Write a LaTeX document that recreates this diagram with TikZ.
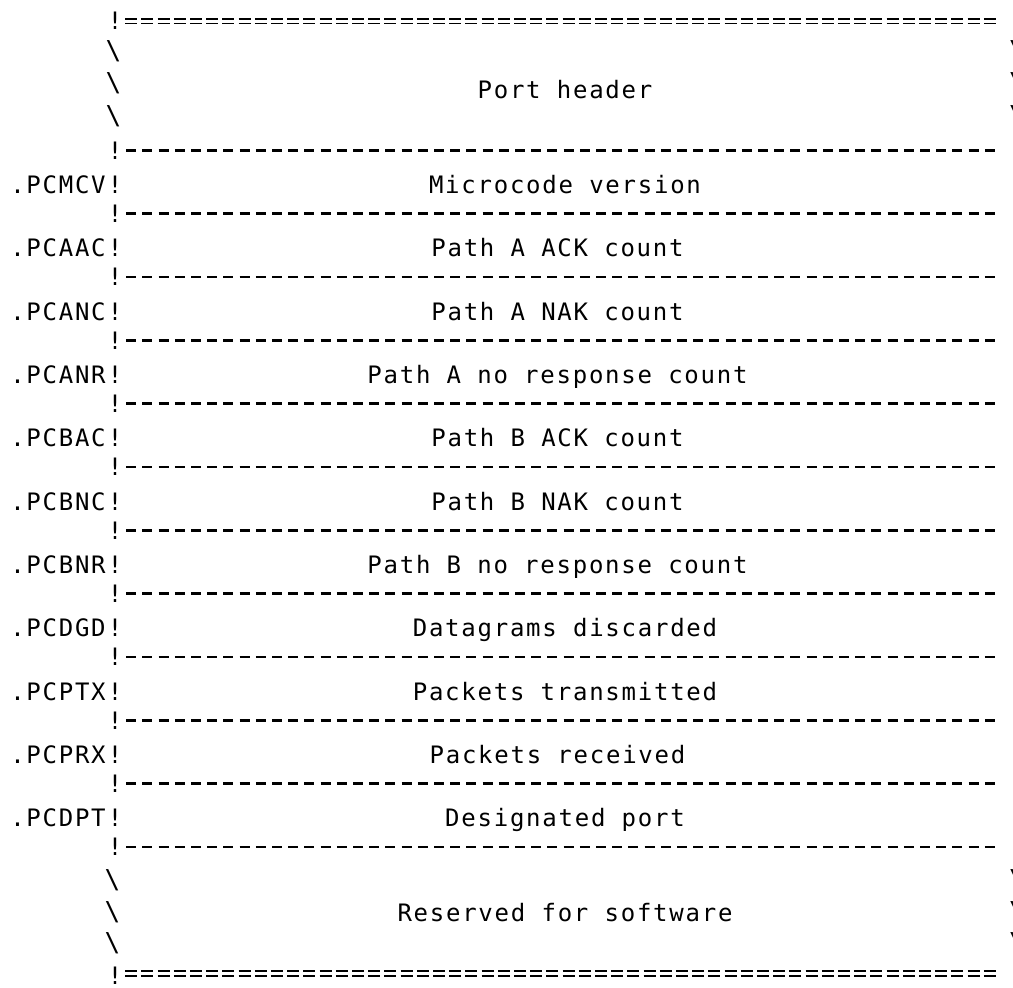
\documentclass[tikz,border=0pt]{standalone}
\usepackage{fontspec}
\newfontfamily\asciifont{DejaVu Sans Mono}[LetterSpace=7.3]
\usepackage{tikz}
\tikzstyle{ascii} = [inner sep=0pt, anchor=base, font=\asciifont\fontsize{12pt}{14pt}\selectfont]
\tikzstyle{slant} = [inner sep=0pt, anchor=center, font=\asciifont\fontsize{13pt}{15pt}\selectfont]
\tikzstyle{rule} = [line width=1.3pt, dash pattern=on 5pt off 3.1pt]
\tikzstyle{dblrule} = [line width=0.8pt, dash pattern=on 6pt off 2.1pt]

\begin{document}
\begin{tikzpicture}[x=0.5pt,y=-0.5pt]
		\useasboundingbox (0,0) rectangle (1013,987);
		\clip (0,0) rectangle (1013,987);
		% top of the block
		\node[ascii](bar_0) at (115,29){!};
		\draw[dblrule] (125.2,18.7) -- (996,18.7);
		\draw[dblrule] (125.2,23.3) -- (996,23.3);
		\node[slant](bs_1) at (113.5,51.5){\textbackslash};
		\node[slant](bs_2) at (113.5,83.5){\textbackslash};
		\node[slant](bs_3) at (113.5,116){\textbackslash};
		\node[slant](bs_1r) at (1017,51.5){\textbackslash};
		\node[slant](bs_2r) at (1017,83.5){\textbackslash};
		\node[slant](bs_3r) at (1017,116){\textbackslash};
		\node[ascii](fld_hdr) at (565,98.3){Port header};
		% one field per row
		\node[ascii](bar_4) at (115,159.2){!};
		\draw[rule] (126.2,150.2) -- (996,150.2);
		\node[ascii](lbl_mcv) at (58,193.4){.PCMCV};
		\node[ascii](bar_5) at (115,193.4){!};
		\node[ascii](fld_mcv) at (565,193.4){Microcode version};
		\node[ascii](bar_6) at (115,222.5){!};
		\draw[rule] (126.2,213.5) -- (996,213.5);
		\node[ascii](lbl_aac) at (58,256.7){.PCAAC};
		\node[ascii](bar_7) at (115,256.7){!};
		\node[ascii](fld_aac) at (557.5,256.7){Path A ACK count};
		\node[ascii](bar_8) at (115,285.9){!};
		\draw[rule] (126.2,276.9) -- (996,276.9);
		\node[ascii](lbl_anc) at (58,320){.PCANC};
		\node[ascii](bar_9) at (115,320){!};
		\node[ascii](fld_anc) at (557.5,320){Path A NAK count};
		\node[ascii](bar_10) at (115,349.2){!};
		\draw[rule] (126.2,340.2) -- (996,340.2);
		\node[ascii](lbl_anr) at (58,383.4){.PCANR};
		\node[ascii](bar_11) at (115,383.4){!};
		\node[ascii](fld_anr) at (557.5,383.4){Path A no response count};
		\node[ascii](bar_12) at (115,412.5){!};
		\draw[rule] (126.2,403.5) -- (996,403.5);
		\node[ascii](lbl_bac) at (58,446.7){.PCBAC};
		\node[ascii](bar_13) at (115,446.7){!};
		\node[ascii](fld_bac) at (557.5,446.7){Path B ACK count};
		\node[ascii](bar_14) at (115,475.9){!};
		\draw[rule] (126.2,466.9) -- (996,466.9);
		\node[ascii](lbl_bnc) at (58,510.1){.PCBNC};
		\node[ascii](bar_15) at (115,510.1){!};
		\node[ascii](fld_bnc) at (557.5,510.1){Path B NAK count};
		\node[ascii](bar_16) at (115,539.2){!};
		\draw[rule] (126.2,530.2) -- (996,530.2);
		\node[ascii](lbl_bnr) at (58,573.4){.PCBNR};
		\node[ascii](bar_17) at (115,573.4){!};
		\node[ascii](fld_bnr) at (557.5,573.4){Path B no response count};
		\node[ascii](bar_18) at (115,602.5){!};
		\draw[rule] (126.2,593.5) -- (996,593.5);
		\node[ascii](lbl_dgd) at (58,636.7){.PCDGD};
		\node[ascii](bar_19) at (115,636.7){!};
		\node[ascii](fld_dgd) at (565,636.7){Datagrams discarded};
		\node[ascii](bar_20) at (115,665.9){!};
		\draw[rule] (126.2,656.9) -- (996,656.9);
		\node[ascii](lbl_ptx) at (58,700.1){.PCPTX};
		\node[ascii](bar_21) at (115,700.1){!};
		\node[ascii](fld_ptx) at (565,700.1){Packets transmitted};
		\node[ascii](bar_22) at (115,729.2){!};
		\draw[rule] (126.2,720.2) -- (996,720.2);
		\node[ascii](lbl_prx) at (58,763.4){.PCPRX};
		\node[ascii](bar_23) at (115,763.4){!};
		\node[ascii](fld_prx) at (557.5,763.4){Packets received};
		\node[ascii](bar_24) at (115,792.5){!};
		\draw[rule] (126.2,783.5) -- (996,783.5);
		\node[ascii](lbl_dpt) at (58,826.8){.PCDPT};
		\node[ascii](bar_25) at (115,826.8){!};
		\node[ascii](fld_dpt) at (565,826.8){Designated port};
		\node[ascii](bar_26) at (115,855.9){!};
		\draw[rule] (126.2,846.9) -- (996,846.9);
		% bottom of the block
		\node[slant](bs_27) at (112.5,880){\textbackslash};
		\node[slant](bs_28) at (112.5,912){\textbackslash};
		\node[slant](bs_29) at (112.5,943.5){\textbackslash};
		\node[slant](bs_27r) at (1017,880){\textbackslash};
		\node[slant](bs_28r) at (1017,912){\textbackslash};
		\node[slant](bs_29r) at (1017,943.5){\textbackslash};
		\node[ascii](fld_sw) at (565,921.8){Reserved for software};
		\node[ascii](bar_30) at (115,984){!};
		\draw[dblrule] (125.2,971.2) -- (996,971.2);
		\draw[dblrule] (125.2,975.8) -- (996,975.8);
\end{tikzpicture}
\end{document}
